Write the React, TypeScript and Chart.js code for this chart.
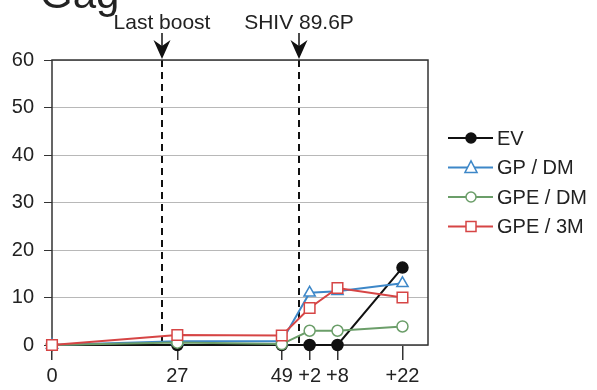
import React, { useEffect, useRef } from "react";
import { Chart, registerables } from "chart.js";

Chart.register(...registerables);

// Data
const tickLabels = ["0", "27", "49", "+2", "+8", "+22"];
const tickPositions = [0, 27, 49.5, 55.5, 61.5, 75.5];
const xMax = 81;
const ev = [0, 0, 0, 0, 0, 16.3];
const gpDm = [0, 0.8, 0.8, 11, 11.3, 13];
const gpeDm = [0, 0.5, 0.2, 3, 3, 3.9];
const gpe3m = [0, 2.1, 2, 7.8, 12, 10];
const seriesNames = ["EV", "GP / DM", "GPE / DM", "GPE / 3M"];
const seriesColors = ["#111111", "#3d87c8", "#6b9e69", "#d64545"];
const eventLabels = ["Last boost", "SHIV 89.6P"];
const eventPositions = [23.7, 53.2];
const titleText = "Gag";

const FONT = "'Liberation Sans', Arial, Helvetica, sans-serif";

function drawMarker(ctx: CanvasRenderingContext2D, kind: string, x: number, y: number, s: number, color: string) {
  ctx.save();
  ctx.lineWidth = 1.5;
  ctx.strokeStyle = color;
  ctx.fillStyle = kind === "dot" ? color : "#ffffff";
  ctx.beginPath();
  if (kind === "triangle") {
    ctx.moveTo(x, y - s * 0.6);
    ctx.lineTo(x + s * 0.55, y + s * 0.45);
    ctx.lineTo(x - s * 0.55, y + s * 0.45);
    ctx.closePath();
  } else if (kind === "rect") {
    ctx.rect(x - s / 2, y - s / 2, s, s);
  } else {
    ctx.arc(x, y, s / 2, 0, Math.PI * 2);
  }
  ctx.fill();
  ctx.stroke();
  ctx.restore();
}

export default function App() {
  const ref = useRef<HTMLCanvasElement>(null);

  useEffect(() => {
    if (!ref.current) return;
    const toPts = (arr: number[]) => tickPositions.map((p, i) => ({ x: p, y: arr[i] }));

    const overlay = {
      id: "overlay",
      beforeDatasetsDraw(chart: any) {
        const { ctx, chartArea: a, scales } = chart;
        const x = scales.x;
        ctx.save();
        ctx.strokeStyle = "#111";
        ctx.lineWidth = 2;
        ctx.setLineDash([7, 5]);
        eventPositions.forEach((p) => {
          const px = Math.round(x.getPixelForValue(p));
          ctx.beginPath();
          ctx.moveTo(px, a.top);
          ctx.lineTo(px, a.bottom);
          ctx.stroke();
        });
        ctx.setLineDash([]);
        ctx.strokeStyle = "#333";
        ctx.lineWidth = 1.5;
        ctx.strokeRect(a.left, a.top, a.right - a.left, a.bottom - a.top);
        ctx.restore();
      },
      afterDraw(chart: any) {
        const { ctx, chartArea: a, scales } = chart;
        const x = scales.x;
        ctx.save();
        ctx.fillStyle = "#222";
        ctx.font = `42px ${FONT}`;
        ctx.textAlign = "left";
        ctx.textBaseline = "alphabetic";
        ctx.fillText(titleText, 40, 8);

        ctx.font = `21px ${FONT}`;
        ctx.textAlign = "center";
        eventPositions.forEach((p, i) => {
          const px = Math.round(x.getPixelForValue(p));
          ctx.fillStyle = "#222";
          ctx.fillText(eventLabels[i], px, a.top - 31);
          ctx.strokeStyle = "#111";
          ctx.fillStyle = "#111";
          ctx.lineWidth = 1.5;
          ctx.beginPath();
          ctx.moveTo(px, a.top - 27);
          ctx.lineTo(px, a.top - 14);
          ctx.stroke();
          ctx.beginPath();
          ctx.moveTo(px - 8.5, a.top - 20);
          ctx.lineTo(px, a.top - 1);
          ctx.lineTo(px + 8.5, a.top - 20);
          ctx.lineTo(px, a.top - 14);
          ctx.closePath();
          ctx.fill();
        });

        const kinds = ["dot", "triangle", "circle", "rect"];
        const sizes = [10, 11, 10, 10];
        ctx.textAlign = "left";
        ctx.textBaseline = "middle";
        ctx.font = `20px ${FONT}`;
        seriesNames.forEach((name, i) => {
          const y = 138 + i * 29.5;
          ctx.strokeStyle = seriesColors[i];
          ctx.lineWidth = 2;
          ctx.beginPath();
          ctx.moveTo(448, y);
          ctx.lineTo(493, y);
          ctx.stroke();
          drawMarker(ctx, kinds[i], 471, y, sizes[i], seriesColors[i]);
          ctx.fillStyle = "#222";
          ctx.fillText(name, 497, y + 1);
        });
        ctx.restore();
      },
    };

    const chart = new Chart(ref.current, {
      type: "line",
      data: {
        datasets: [
          {
            label: seriesNames[0],
            data: toPts(ev),
            borderColor: seriesColors[0],
            backgroundColor: seriesColors[0],
            pointBackgroundColor: seriesColors[0],
            pointStyle: "circle",
            pointRadius: 5.5,
            pointBorderWidth: 1.5,
            borderWidth: 2,
            order: 3,
            clip: false,
          },
          {
            label: seriesNames[1],
            data: toPts(gpDm),
            borderColor: seriesColors[1],
            backgroundColor: "#fff",
            pointBackgroundColor: "#fff",
            pointStyle: "triangle",
            pointRadius: 6.5,
            pointBorderWidth: 1.5,
            borderWidth: 2,
            order: 2,
            clip: false,
          },
          {
            label: seriesNames[2],
            data: toPts(gpeDm),
            borderColor: seriesColors[2],
            backgroundColor: "#fff",
            pointBackgroundColor: "#fff",
            pointStyle: "circle",
            pointRadius: 5.5,
            pointBorderWidth: 1.5,
            borderWidth: 2,
            order: 1,
            clip: false,
          },
          {
            label: seriesNames[3],
            data: toPts(gpe3m),
            borderColor: seriesColors[3],
            backgroundColor: "#fff",
            pointBackgroundColor: "#fff",
            pointStyle: "rect",
            pointRadius: 7.5,
            pointBorderWidth: 1.5,
            borderWidth: 2,
            order: 0,
            clip: false,
          },
        ],
      },
      options: {
        responsive: false,
        animation: false,
        layout: { padding: { left: 0, right: 169, top: 60, bottom: 0 } },
        plugins: { legend: { display: false }, tooltip: { enabled: false }, title: { display: false } },
        scales: {
          x: {
            type: "linear",
            min: 0,
            max: xMax,
            afterBuildTicks: (scale: any) => {
              scale.ticks = tickPositions.map((v) => ({ value: v }));
            },
            afterFit: (scale: any) => {
              scale.height = 45;
            },
            border: { display: false },
            grid: { drawOnChartArea: false, drawTicks: true, tickLength: 15, tickColor: "#333", lineWidth: 1.5 },
            ticks: {
              autoSkip: false,
              maxRotation: 0,
              minRotation: 0,
              padding: 4,
              color: "#222",
              font: { family: FONT, size: 20 },
              callback: (value: any) => {
                const i = tickPositions.indexOf(Number(value));
                return i >= 0 ? tickLabels[i] : "";
              },
            },
          },
          y: {
            min: 0,
            max: 60,
            afterFit: (scale: any) => {
              scale.width = 52;
            },
            border: { display: false },
            grid: { color: "#b8b8b8", tickColor: "#333", tickLength: 8, lineWidth: 1 },
            ticks: {
              stepSize: 10,
              padding: 10,
              color: "#222",
              font: { family: FONT, size: 20 },
            },
          },
        },
      },
      plugins: [overlay],
    } as any);

    return () => chart.destroy();
  }, []);

  return (
    <div style={{ position: "fixed", left: 0, top: 0, width: 597, height: 390, background: "#fff" }}>
      <canvas ref={ref} width={597} height={390} style={{ display: "block" }} />
    </div>
  );
}
